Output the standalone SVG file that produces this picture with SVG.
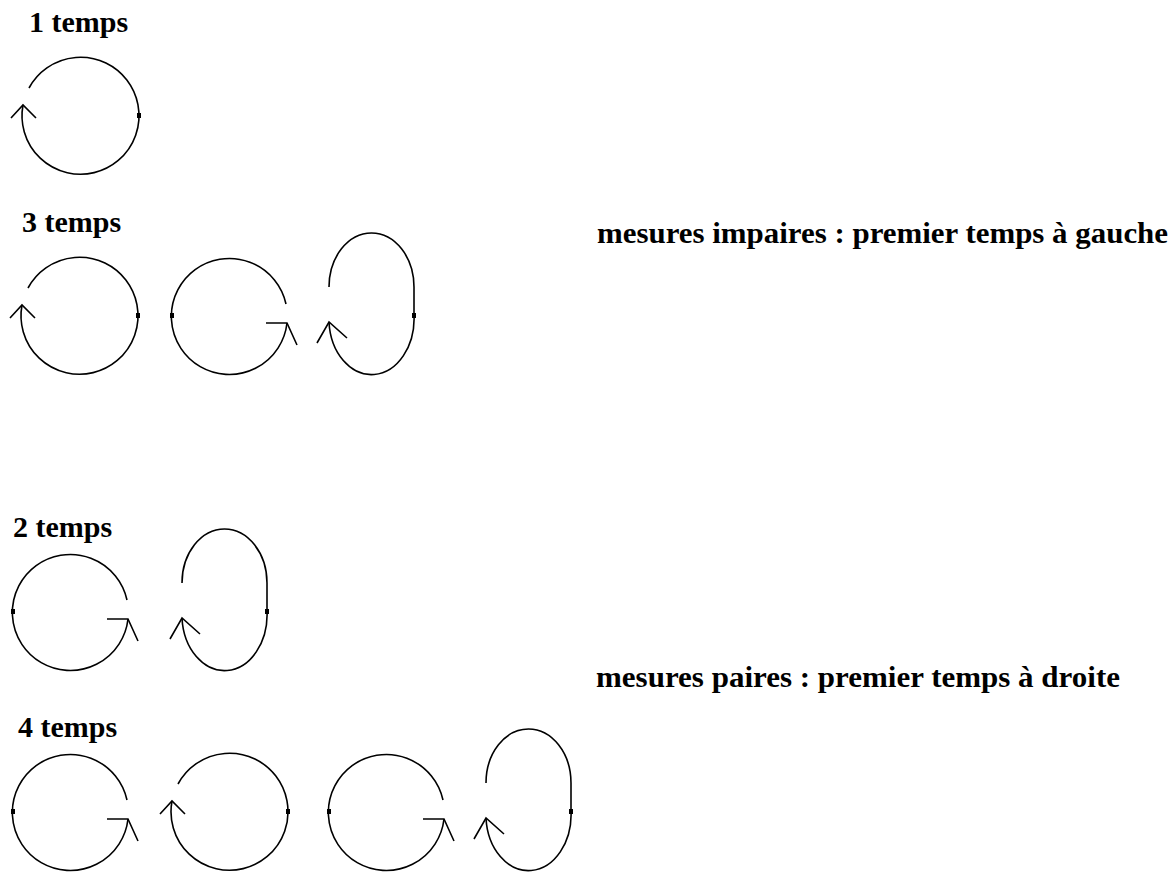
<svg xmlns="http://www.w3.org/2000/svg" width="1176" height="873" viewBox="0 0 1176 873">
  <style>
    .lbl { font-family: "Liberation Serif", "Times New Roman", serif; font-weight: bold; font-size: 30px; fill: #000; }
    .arc { fill: none; stroke: #000; stroke-width: 1.6; stroke-linejoin: miter; }
    .dot { fill: #000; }
  </style>
  <defs>
    <!-- circle beat, arrow on the left, dot on the right (centre 0,0) -->
    <g id="loopLeft">
      <path class="arc" d="M -52 -27 A 58.5 58.5 0 1 1 -58 -10"/>
      <polyline class="arc" points="-70,3 -58,-10 -45,3"/>
      <rect class="dot" x="56" y="-2" width="4" height="5"/>
    </g>
    <!-- circle beat, dot on the left, hook arrow on the right (centre 0,0) -->
    <g id="loopRight">
      <path class="arc" d="M 56 -11 A 58 58 0 1 0 57 8"/>
      <polyline class="arc" points="36,8 57,8 67,30"/>
      <rect class="dot" x="-60" y="-2" width="4" height="5"/>
    </g>
    <!-- tall oval beat, dot on the right edge (dot at 0,0) -->
    <g id="oval">
      <path class="arc" d="M -85 -28 A 42.5 54 0 0 1 0 -28 L 0 0 A 42.5 56 0 0 1 -85 7"/>
      <polyline class="arc" points="-97,28 -85,7 -67,23"/>
      <rect class="dot" x="-2" y="-2" width="4" height="5"/>
    </g>
  </defs>

  <!-- labels -->
  <g id="labels">
    <text id="t1" class="lbl" x="29" y="32">1 temps</text>
    <text id="t3" class="lbl" x="22" y="232">3 temps</text>
    <text id="t2" class="lbl" x="13" y="537">2 temps</text>
    <text id="t4" class="lbl" x="18" y="737">4 temps</text>
    <text id="impaires" class="lbl" x="597" y="243" textLength="571" lengthAdjust="spacingAndGlyphs">mesures impaires : premier temps à gauche</text>
    <text id="paires" class="lbl" x="596" y="687" textLength="524" lengthAdjust="spacingAndGlyphs">mesures paires : premier temps à droite</text>
  </g>

  <!-- 1 temps -->
  <g id="m1-b1"><use href="#loopLeft" x="81" y="115"/></g>

  <!-- 3 temps -->
  <g id="m3-b1"><use href="#loopLeft" x="80" y="315"/></g>
  <g id="m3-b2"><use href="#loopRight" x="230" y="315"/></g>
  <g id="m3-b3"><use href="#oval" x="414" y="315"/></g>

  <!-- 2 temps -->
  <g id="m2-b1"><use href="#loopRight" x="71" y="611"/></g>
  <g id="m2-b2"><use href="#oval" x="267" y="611"/></g>

  <!-- 4 temps -->
  <g id="m4-b1"><use href="#loopRight" x="71" y="811"/></g>
  <g id="m4-b2"><use href="#loopLeft" x="230" y="811"/></g>
  <g id="m4-b3"><use href="#loopRight" x="387" y="811"/></g>
  <g id="m4-b4"><use href="#oval" x="571" y="811"/></g>

  <!-- no separate connectors: each beat's arrow is part of its own stroke -->
  <g id="connectors"/>
</svg>
